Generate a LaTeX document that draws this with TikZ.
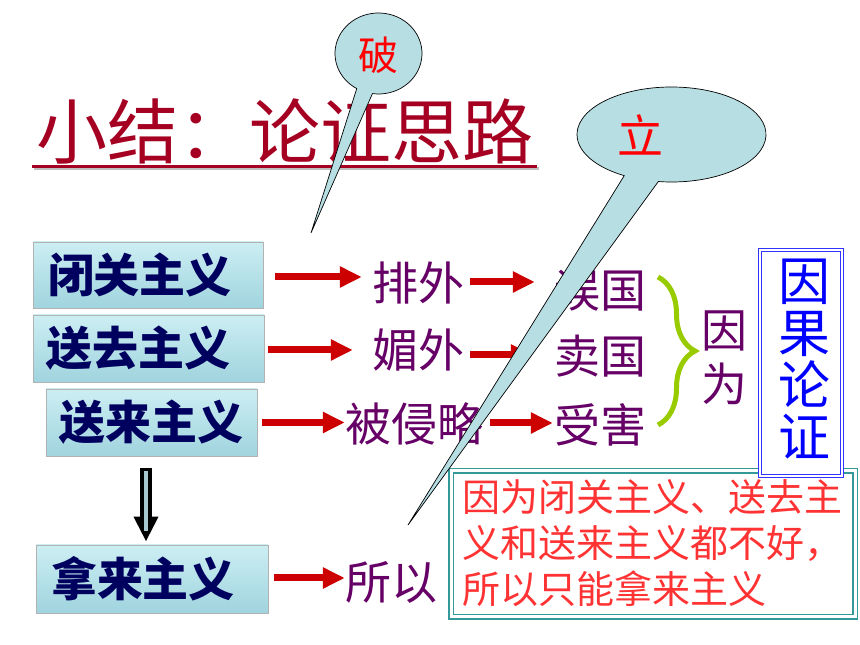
\documentclass[tikz,border=0pt]{standalone}
\usepackage{fontspec}
\setmainfont{Noto Sans CJK SC}
\usetikzlibrary{arrows.meta,decorations.pathreplacing,calc}
\definecolor{titred}{RGB}{165,0,33}
\definecolor{navy}{RGB}{0,0,94}
\definecolor{purp}{RGB}{102,0,102}
\definecolor{arrred}{RGB}{204,0,0}
\definecolor{brgreen}{RGB}{153,204,0}
\definecolor{bubfill}{RGB}{183,222,227}
\definecolor{teal2}{RGB}{51,153,153}
\definecolor{blue2}{RGB}{0,0,255}
\definecolor{blueframe}{RGB}{51,51,255}
\definecolor{concred}{RGB}{255,51,51}
\definecolor{boxtop}{RGB}{204,238,243}
\definecolor{boxbot}{RGB}{160,212,222}
\definecolor{innerc}{RGB}{168,200,208}
\tikzset{
  bubble/.style={fill=bubfill, draw=black, line width=0.7pt},
  bubtext/.style={inner sep=0pt, text=red},
  mainbox/.style={draw=black!30, line width=0.6pt, top color=boxtop, bottom color=boxbot,
    inner sep=0pt, text=navy, font=\fontsize{46}{46}\selectfont\bfseries},
  ptext/.style={inner sep=0pt, text=purp, font=\fontsize{46}{46}\selectfont},
  redarr/.style={arrred, line width=7pt, -{Triangle[length=22pt,width=20pt]}},
}
\begin{document}
\begin{tikzpicture}[x=1pt,y=1pt]
\fill[white] (0,0) rectangle (860,645);
\useasboundingbox (0,0) rectangle (860,645);

% title
\node[inner sep=0pt, text=titred, font=\fontsize{71}{80}\selectfont] (title) at (285,514) {小结：论证思路};
\draw[black!25, line width=3pt] ([shift={(-2,-38)}]title.west) -- ([shift={(5,-38)}]title.east);
\draw[titred, line width=3pt] ([shift={(-4.5,-35.5)}]title.west) -- ([shift={(3.5,-35.5)}]title.east);

% bubble po
\coordinate (pocenter) at (378.5,591.5);
\coordinate (potip) at (311,412);
\filldraw[bubble] ($(pocenter)+(262:43.5 and 40.5)$) arc[start angle=262, end angle=600, x radius=43.5, y radius=40.5] -- (potip) -- cycle;
\node[bubtext, font=\fontsize{40}{40}\selectfont] (po) at (378,590) {破};

% left boxes
\node[mainbox, minimum width=230, minimum height=66] (box1) at (148,370) {闭关主义\hspace*{16pt}};
\node[mainbox, minimum width=231, minimum height=67] (box2) at (148.5,296.5) {送去主义\hspace*{20pt}};
\node[mainbox, minimum width=211, minimum height=67] (box3) at (151.5,222.5) {送来主义};
\node[mainbox, minimum width=232, minimum height=68] (box4) at (152,66) {拿来主义\hspace*{18pt}};

% purple texts
\node[ptext] (paiwai) at (418,362) {排外};
\node[ptext] (meiwai) at (418,295) {媚外};
\node[ptext] (beiqinlue) at (414,221) {被侵略};
\node[ptext] (wuguo) at (600,354) {误国};
\node[ptext] (maiguo) at (600,289) {卖国};
\node[ptext] (shouhai) at (600,220) {受害};
\node[ptext] (suoyi) at (391,63) {所以};
\node[ptext, align=center, font=\fontsize{46}{54}\selectfont] (yinwei) at (724,287) {因\\为};

% red arrows
\draw[redarr, shorten <=12pt, shorten >=10pt] ([yshift=-2pt]box1.east) -- ([yshift=-2pt]box1.east -| paiwai.west);
\draw[redarr, shorten <=6pt, shorten >=19pt] ([yshift=1pt]paiwai.east) -- ([yshift=1pt]paiwai.east -| wuguo.west);
\draw[redarr, shorten <=4pt, shorten >=19pt] ([yshift=-1.5pt]box2.east) -- ([yshift=-1.5pt]box2.east -| meiwai.west);
\draw[redarr, shorten <=6pt, shorten >=21pt] ([yshift=-5pt]meiwai.east) -- ([yshift=-5pt]meiwai.east -| maiguo.west);
\draw[redarr, shorten <=5pt, shorten >=0pt] (box3.east) -- (box3.east -| beiqinlue.west);
\draw[redarr, shorten <=7pt, shorten >=1pt] ([yshift=1pt]beiqinlue.east) -- ([yshift=1pt]beiqinlue.east -| shouhai.west);
\draw[redarr, shorten <=6pt, shorten >=0pt] ([yshift=1pt]box4.east) -- ([yshift=1pt]box4.east -| suoyi.west);

% down block arrow
\draw[black, line width=12pt, -{Triangle[length=25pt,width=23pt]}, shorten <=12pt, shorten >=3pt]
  ([xshift=-5.5pt]box3.south) -- ([xshift=-5.5pt]box3.south |- box4.north);
\draw[innerc, line width=4pt, shorten <=15pt, shorten >=14pt]
  ([xshift=-5.5pt]box3.south) -- ([xshift=-5.5pt]box3.south |- box4.north);

% brace
\coordinate (bt) at (658,368);
\coordinate (bb) at (658,220);
\draw[brgreen, line width=5pt, decorate, decoration={brace, amplitude=37pt}] (bt) -- (bb);

% conclusion box
\node[draw=teal2, double=white, double distance=3pt, line width=1.5pt, fill=white,
  minimum width=404, minimum height=146, inner sep=0pt] (concl) at (653,101) {};
\node[inner sep=0pt, align=left, text=concred, font=\fontsize{38}{46}\selectfont] (conctext) at (652,101.5)
  {因为闭关主义、送去主\\义和送来主义都不好，\\所以只能拿来主义};

% yinguo lunzheng box
\node[draw=blueframe, double=white, double distance=2.5pt, line width=1.1pt, fill=white,
  minimum width=82, minimum height=226, inner sep=0pt] (ygbox) at (801,282) {};
\node[inner sep=0pt, align=center, text=blue2, font=\fontsize{52}{52}\selectfont] (ygtext) at (804,286)
  {因\\果\\论\\证};

% bubble li
\coordinate (licenter) at (671.5,510.5);
\coordinate (litip) at (408,120);
\filldraw[bubble] ($(licenter)+(262:94.5 and 47.5)$) arc[start angle=262, end angle=600, x radius=94.5, y radius=47.5] -- (litip) -- cycle;
\node[bubtext, font=\fontsize{46}{46}\selectfont] (li) at (640,510) {立};
\end{tikzpicture}
\end{document}
